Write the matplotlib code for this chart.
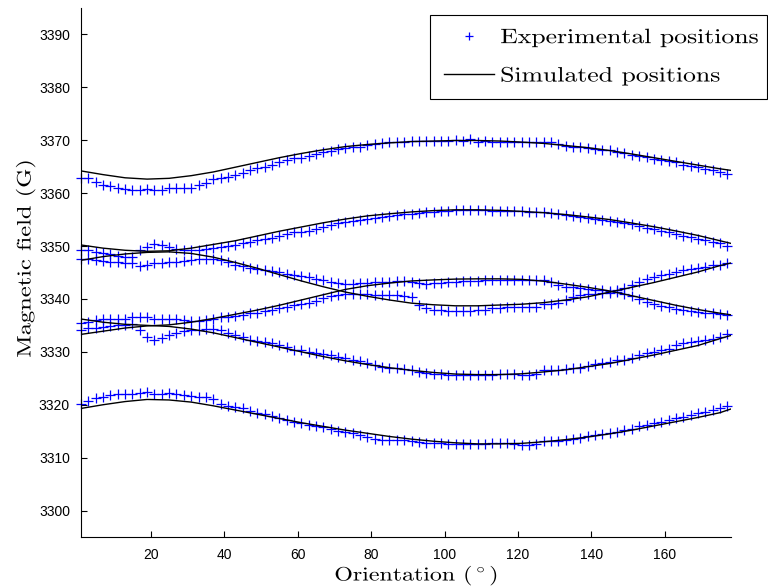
import numpy as np
import matplotlib
matplotlib.use("Agg")
import matplotlib.pyplot as plt
from matplotlib.patheffects import AbstractPathEffect
from matplotlib.transforms import Affine2D

# orientation grid of the measured spectra and of the simulation (degrees)
angles_exp = np.arange(1, 178, 2)
angles_sim = np.r_[np.arange(1, 176, 6), 178]

# measured resonance positions (G), one list per line
exp_1 = [3362.8, 3362.8, 3362.1, 3361.6, 3361.3, 3360.9, 3360.8, 3360.5, 3360.5, 3360.7,
         3360.5, 3360.6, 3360.9, 3361.0, 3361.0, 3361.0, 3361.5, 3362.0, 3362.6, 3362.9,
         3363.1, 3363.4, 3363.8, 3364.3, 3364.7, 3365.0, 3365.4, 3365.9, 3366.3, 3366.6,
         3366.7, 3367.0, 3367.4, 3367.8, 3368.0, 3368.3, 3368.6, 3368.7, 3368.8, 3369.1,
         3369.3, 3369.4, 3369.6, 3369.7, 3369.7, 3369.8, 3369.8, 3369.8, 3369.9, 3369.9,
         3369.9, 3370.1, 3369.8, 3370.2, 3369.6, 3369.8, 3369.7, 3369.7, 3369.7,
         3369.7, 3369.7, 3369.7, 3369.7, 3369.7, 3369.6, 3369.2, 3369.0, 3368.8, 3368.7,
         3368.6, 3368.3, 3368.2, 3368.1, 3367.8, 3367.6, 3367.3, 3367.0, 3366.8, 3366.5,
         3366.3, 3366.0, 3365.8, 3365.4, 3365.2, 3364.9, 3364.5, 3364.3, 3364.0, 3363.6]
exp_2 = [3349.2, 3349.2, 3348.8, 3348.6, 3348.4, 3348.2, 3348.0, 3348.0, 3349.2, 3349.9,
         3350.4, 3350.2, 3349.8, 3349.5, 3349.3, 3349.2, 3349.2, 3349.5, 3349.7, 3349.85,
         3350.0, 3350.2, 3350.5, 3350.8, 3351.1, 3351.3, 3351.55, 3351.9, 3352.3, 3352.6,
         3352.7, 3352.8, 3353.2, 3353.6, 3354.0, 3354.4, 3354.6, 3354.7, 3354.9, 3355.2,
         3355.3, 3355.5, 3355.7, 3355.9, 3356.1, 3356.1, 3356.3, 3356.5, 3356.5, 3356.6,
         3356.7, 3356.8, 3356.8, 3356.8, 3356.8, 3356.8, 3356.6, 3356.6, 3356.6,
         3356.6, 3356.6, 3356.5, 3356.5, 3356.5, 3356.3, 3356.1, 3355.85, 3355.7, 3355.5,
         3355.3, 3355.1, 3354.95, 3354.7, 3354.6, 3354.3, 3354.1, 3353.8, 3353.45, 3353.2,
         3352.8, 3352.6, 3352.2, 3351.9, 3351.7, 3351.4, 3351.2, 3350.8, 3350.5, 3350.0]
exp_3 = [3347.6, 3347.5, 3347.3, 3347.1, 3347.0, 3346.9, 3346.8, 3346.7, 3346.3, 3346.5,
         3346.7, 3346.8, 3346.9, 3347.0, 3347.2, 3347.4, 3347.5, 3347.5, 3347.5, 3347.3,
         3347.0, 3346.5, 3346.2, 3345.9, 3345.6, 3345.4, 3345.2, 3345.0, 3344.8, 3344.5,
         3344.4, 3344.1, 3343.8, 3343.5, 3343.2, 3343.0, 3342.8, 3342.9, 3343.0, 3343.1,
         3343.2, 3343.2, 3343.2, 3343.4, 3343.3, 3343.2, 3343.0, 3342.9, 3343.0, 3343.1,
         3343.2, 3343.2, 3343.3, 3343.4, 3343.4, 3343.5, 3343.5, 3343.5, 3343.5,
         3343.6, 3343.6, 3343.5, 3343.5, 3343.5, 3343.2, 3342.6, 3342.3, 3342.2, 3342.0,
         3341.9, 3341.7, 3341.6, 3341.5, 3341.6, 3342.0, 3342.6, 3343.2, 3343.7, 3344.2,
         3344.5, 3344.75, 3345.1, 3345.4, 3345.75, 3345.9, 3346.1, 3346.4, 3346.5, 3346.7]
exp_4 = [3335.4, 3335.7, 3336.0, 3336.3, 3336.3, 3336.3, 3336.3, 3336.5, 3336.5, 3336.5,
         3336.3, 3336.3, 3336.3, 3336.3, 3336.0, 3335.9, 3335.9, 3336.1, 3336.3, 3336.5,
         3336.6, 3336.75, 3336.9, 3337.25, 3337.4, 3337.75, 3337.9, 3338.2, 3338.5, 3338.8,
         3339.0, 3339.3, 3339.7, 3340.1, 3340.5, 3340.8, 3341.0, 3341.0, 3341.0, 3340.9,
         3340.7, 3340.7, 3340.7, 3340.7, 3340.5, 3340.3, 3338.8, 3338.2, 3338.0, 3337.9,
         3337.75, 3337.75, 3337.75, 3337.75, 3337.9, 3338.0, 3338.2, 3338.3, 3338.4,
         3338.4, 3338.4, 3338.5, 3338.5, 3339.0, 3339.1, 3339.2, 3339.8, 3340.3, 3340.7,
         3340.9, 3341.0, 3341.1, 3341.2, 3341.3, 3341.0, 3340.5, 3340.0, 3339.5, 3339.0,
         3338.7, 3338.4, 3338.1, 3337.9, 3337.75, 3337.6, 3337.4, 3337.25, 3337.1, 3336.95]
exp_5 = [3334.1, 3334.6, 3334.6, 3334.7, 3334.85, 3335.0, 3335.0, 3335.2, 3334.1, 3332.8,
         3332.3, 3332.7, 3333.15, 3333.6, 3334.0, 3334.1, 3334.2, 3334.4, 3334.4, 3334.1,
         3333.6, 3333.15, 3332.8, 3332.3, 3332.1, 3331.9, 3331.6, 3331.3, 3330.9, 3330.4,
         3330.3, 3330.0, 3329.8, 3329.6, 3329.4, 3329.1, 3328.75, 3328.4, 3328.2, 3327.9,
         3327.5, 3327.2, 3327.0, 3326.85, 3326.7, 3326.5, 3326.2, 3326.0, 3325.9, 3325.8,
         3325.6, 3325.6, 3325.6, 3325.6, 3325.6, 3325.7, 3325.7, 3325.8, 3325.9,
         3325.8, 3325.6, 3325.6, 3325.9, 3326.5, 3326.5, 3326.5, 3326.7, 3326.85, 3327.0,
         3327.3, 3327.7, 3327.9, 3328.1, 3328.4, 3328.55, 3328.9, 3329.4, 3329.7, 3330.0,
         3330.3, 3330.6, 3331.3, 3331.6, 3331.9, 3332.1, 3332.3, 3332.5, 3332.8, 3333.4]
exp_6 = [3320.1, 3320.75, 3321.2, 3321.5, 3321.8, 3322.0, 3322.1, 3322.1, 3322.25, 3322.4,
         3322.1, 3322.1, 3322.2, 3322.1, 3321.8, 3321.6, 3321.5, 3321.5, 3321.0, 3320.2,
         3319.7, 3319.5, 3319.3, 3318.85, 3318.5, 3318.2, 3317.85, 3317.4, 3317.2, 3316.8,
         3316.6, 3316.2, 3315.9, 3315.7, 3315.4, 3315.1, 3314.8, 3314.6, 3314.3, 3313.9,
         3313.6, 3313.4, 3313.4, 3313.3, 3313.3, 3313.2, 3313.0, 3312.8, 3312.7, 3312.7,
         3312.55, 3312.55, 3312.55, 3312.55, 3312.55, 3312.55, 3312.7, 3312.7, 3312.7,
         3312.55, 3312.4, 3312.4, 3312.55, 3313.2, 3313.2, 3313.2, 3313.4, 3313.6, 3313.8,
         3314.1, 3314.25, 3314.4, 3314.7, 3314.9, 3315.2, 3315.5, 3315.95, 3316.1, 3316.5,
         3316.8, 3317.1, 3317.4, 3317.7, 3318.0, 3318.35, 3318.65, 3319.0, 3319.3, 3319.7]

# simulated resonance positions (G)
sim_1 = [3364.2, 3363.5, 3362.9, 3362.65, 3362.8, 3363.3, 3364.0, 3364.9, 3365.8, 3366.7,
         3367.5, 3368.2, 3368.8, 3369.2, 3369.5, 3369.75, 3369.85, 3369.95, 3369.95, 3369.85,
         3369.65, 3369.4, 3369.0, 3368.6, 3368.05, 3367.4, 3366.7, 3366.0, 3365.3, 3364.6,
         3364.3]
sim_2 = [3350.2, 3349.6, 3349.2, 3349.0, 3349.1, 3349.6, 3350.3, 3351.0, 3351.9, 3352.8,
         3353.6, 3354.4, 3355.1, 3355.7, 3356.1, 3356.45, 3356.7, 3356.85, 3356.85, 3356.75,
         3356.55, 3356.3, 3355.95, 3355.5, 3355.0, 3354.35, 3353.65, 3352.85, 3352.0, 3351.0,
         3350.5]
sim_3 = [3347.3, 3348.0, 3348.5, 3348.8, 3348.9, 3348.6, 3347.9, 3346.9, 3345.8, 3344.6,
         3343.4, 3342.3, 3341.3, 3340.5, 3339.8, 3339.2, 3338.9, 3338.7, 3338.7, 3338.85,
         3339.0, 3339.3, 3339.8, 3340.4, 3341.3, 3342.2, 3343.1, 3344.1, 3345.1, 3346.3,
         3346.8]
sim_4 = [3333.3, 3333.9, 3334.5, 3334.9, 3335.1, 3335.6, 3336.3, 3337.1, 3337.9, 3338.8,
         3339.8, 3340.8, 3341.8, 3342.5, 3343.0, 3343.4, 3343.6, 3343.75, 3343.8, 3343.8,
         3343.7, 3343.35, 3342.8, 3342.2, 3341.5, 3340.6, 3339.7, 3338.8, 3338.0, 3337.3,
         3337.0]
sim_5 = [3336.2, 3335.6, 3335.2, 3335.0, 3334.8, 3334.3, 3333.6, 3332.7, 3331.8, 3330.9,
         3330.0, 3329.1, 3328.3, 3327.6, 3327.0, 3326.5, 3326.1, 3325.8, 3325.7, 3325.7,
         3325.85, 3326.2, 3326.6, 3327.2, 3327.8, 3328.6, 3329.4, 3330.3, 3331.2, 3332.5,
         3333.1]
sim_6 = [3319.3, 3320.0, 3320.6, 3321.0, 3320.9, 3320.5, 3319.8, 3319.0, 3318.2, 3317.4,
         3316.6, 3315.9, 3315.2, 3314.6, 3314.0, 3313.5, 3313.1, 3312.8, 3312.6, 3312.6,
         3312.7, 3313.0, 3313.4, 3313.9, 3314.5, 3315.2, 3316.0, 3316.8, 3317.6, 3318.5,
         3319.2]

exp_lines = [exp_1, exp_2, exp_3, exp_4, exp_5, exp_6]
sim_lines = [sim_1, sim_2, sim_3, sim_4, sim_5, sim_6]


class Tracking(AbstractPathEffect):
    """Widen a text run along its baseline (loose LaTeX-style letter spacing)."""

    def __init__(self, factor, anchor='center'):
        super().__init__()
        self.factor = factor
        self.anchor = anchor

    def draw_path(self, renderer, gc, tpath, affine, rgbFace=None):
        ext = tpath.get_extents()
        x0 = ext.x0 if self.anchor == 'left' else 0.5 * (ext.x0 + ext.x1)
        widen = Affine2D().translate(-x0, 0).scale(self.factor, 1).translate(x0, 0)
        renderer.draw_path(gc, tpath, widen + affine, rgbFace)


plt.rcParams['mathtext.fontset'] = 'cm'
plt.rcParams['font.family'] = 'Liberation Sans'

fig = plt.figure(figsize=(7.68, 5.87), dpi=100)
ax = fig.add_axes([0.1055, 0.0852, 0.8463, 0.9012])

for i, y in enumerate(exp_lines):
    ax.plot(angles_exp, y, linestyle='none', marker='+', markersize=6.5,
            markeredgewidth=0.9, color=(0, 0, 1), clip_on=False,
            label='Experimental positions' if i == 0 else None)
for i, y in enumerate(sim_lines):
    ax.plot(angles_sim, y, color='black', linewidth=1.0,
            label='Simulated positions' if i == 0 else None)

ax.set_xlim(1, 178)
ax.set_ylim(3295, 3395)
ax.set_xticks(range(20, 161, 20))
ax.set_yticks(range(3300, 3391, 10))
ax.ticklabel_format(useOffset=False, style='plain')

for side in ('top', 'right'):
    ax.spines[side].set_visible(False)
for side in ('left', 'bottom'):
    ax.spines[side].set_linewidth(0.8)
ax.tick_params(direction='in', length=4.5, width=0.8, labelsize=10, pad=8,
               top=False, right=False)

label_font = dict(family='cmr10', size=14)
xl = ax.set_xlabel(r'Orientation ($^\circ$)', fontdict=label_font)
yl = ax.set_ylabel('Magnetic field (G)', fontdict=label_font)
ax.xaxis.set_label_coords(0.516, -0.05)
ax.yaxis.set_label_coords(-0.07, 0.526)
xl.set_path_effects([Tracking(1.23)])
yl.set_path_effects([Tracking(1.26)])

leg = ax.legend(loc='upper left', mode='expand',
                bbox_to_anchor=(430 / 768, 1 - 99 / 587, 337 / 768, 84 / 587),
                bbox_transform=fig.transFigure, borderaxespad=0,
                prop=dict(family='cmr10', size=15), numpoints=1,
                handlelength=2.4, handletextpad=0.33, fancybox=False,
                framealpha=1, edgecolor='black', borderpad=0.65,
                labelspacing=0.95)
leg.get_frame().set_linewidth(0.8)
leg.legend_handles[0].set_markersize(5.5)
for txt in leg.get_texts():
    txt.set_path_effects([Tracking(1.235, anchor='left')])

fig.savefig('out.png', dpi=100)
